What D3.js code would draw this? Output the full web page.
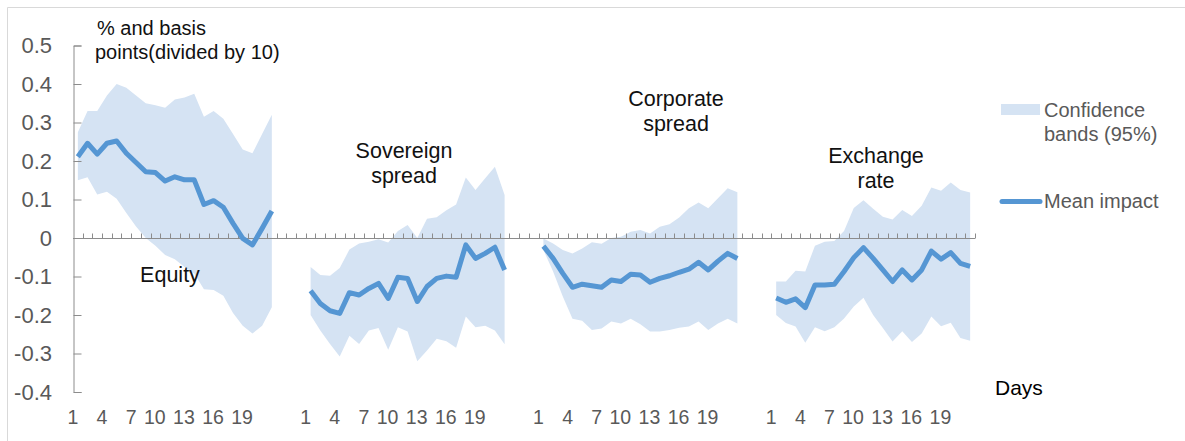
<!DOCTYPE html>
<html><head><meta charset="utf-8">
<script src="https://cdn.jsdelivr.net/npm/d3@7"></script>
<style>body{margin:0;background:#fff}svg{display:block;font-family:"Liberation Sans",Arial,sans-serif}</style>
</head><body><svg id="chart" width="1185" height="441"></svg>
<script>
// ---------- data ----------
const days = d3.range(1, 22);                 // 1..21 days per block
const dayTickLabels = [1, 4, 7, 10, 13, 16, 19];
const blockNames = ["Equity", "Sovereign spread", "Corporate spread", "Exchange rate"];
const yTicks = [-0.4, -0.3, -0.2, -0.1, 0, 0.1, 0.2, 0.3, 0.4, 0.5];

const equityMean = [0.211,0.246,0.218,0.246,0.252,0.220,0.196,0.172,0.170,0.148,0.159,0.151,0.151,0.087,0.097,0.080,0.038,-0.001,-0.018,0.025,0.070];
const equityHigh = [0.275,0.330,0.330,0.370,0.400,0.390,0.370,0.350,0.345,0.338,0.360,0.365,0.375,0.315,0.330,0.310,0.270,0.230,0.220,0.270,0.320];
const equityLow  = [0.150,0.158,0.113,0.120,0.102,0.065,0.030,0.000,-0.020,-0.044,-0.055,-0.075,-0.092,-0.133,-0.135,-0.150,-0.195,-0.228,-0.248,-0.228,-0.180];

const sovereignMean = [-0.137,-0.170,-0.189,-0.196,-0.142,-0.148,-0.131,-0.118,-0.157,-0.102,-0.105,-0.165,-0.126,-0.105,-0.099,-0.102,-0.018,-0.053,-0.040,-0.024,-0.083];
const sovereignHigh = [-0.075,-0.096,-0.098,-0.078,-0.030,-0.014,-0.010,-0.003,-0.012,0.018,0.034,0.000,0.050,0.054,0.072,0.087,0.157,0.125,0.155,0.185,0.112];
const sovereignLow  = [-0.200,-0.240,-0.275,-0.308,-0.254,-0.275,-0.240,-0.234,-0.290,-0.232,-0.243,-0.320,-0.292,-0.262,-0.268,-0.285,-0.204,-0.232,-0.228,-0.240,-0.276];

const corporateMean = [-0.021,-0.053,-0.092,-0.128,-0.120,-0.124,-0.128,-0.109,-0.113,-0.094,-0.096,-0.115,-0.105,-0.098,-0.089,-0.081,-0.063,-0.083,-0.060,-0.040,-0.053];
const corporateHigh = [-0.001,-0.014,-0.031,-0.040,-0.027,-0.011,-0.015,0.000,0.003,0.016,0.021,0.012,0.029,0.036,0.053,0.077,0.092,0.077,0.103,0.129,0.119];
const corporateLow  = [-0.031,-0.087,-0.152,-0.210,-0.215,-0.239,-0.235,-0.217,-0.222,-0.210,-0.224,-0.243,-0.243,-0.239,-0.233,-0.230,-0.217,-0.239,-0.222,-0.210,-0.222];

const exchangeMean = [-0.156,-0.167,-0.158,-0.181,-0.122,-0.122,-0.120,-0.087,-0.051,-0.025,-0.053,-0.083,-0.113,-0.083,-0.109,-0.083,-0.034,-0.055,-0.038,-0.066,-0.074];
const exchangeHigh = [-0.113,-0.113,-0.085,-0.087,-0.020,-0.010,-0.008,0.018,0.078,0.098,0.076,0.055,0.048,0.073,0.057,0.084,0.131,0.123,0.144,0.125,0.118];
const exchangeLow  = [-0.200,-0.221,-0.230,-0.272,-0.232,-0.242,-0.232,-0.209,-0.178,-0.155,-0.200,-0.234,-0.269,-0.242,-0.270,-0.248,-0.204,-0.229,-0.220,-0.260,-0.267];

const seriesMean = [equityMean, sovereignMean, corporateMean, exchangeMean];
const seriesHigh = [equityHigh, sovereignHigh, corporateHigh, exchangeHigh];
const seriesLow  = [equityLow, sovereignLow, corporateLow, exchangeLow];

// ---------- layout ----------
const svg = d3.select("#chart");
const BAND = "#d5e3f3", LINE = "#5596d3", AXIS = "#8c8c8c", GREY = "#595959";
const gapSize = 3;

// category keys: 21 days per block, 3 empty slots between blocks
const categories = [];
blockNames.forEach((b, bi) => {
  days.forEach(d => categories.push(bi + "-" + d));
  if (bi < blockNames.length - 1) for (let g = 0; g < gapSize; g++) categories.push("gap" + bi + "-" + g);
});

const x = d3.scaleBand().domain(categories).range([73, 975]).padding(0);
const y = d3.scaleLinear().domain([-0.4, 0.5]).range([392, 45.5]);
const cx = k => x(k) + x.bandwidth() / 2;

// border
svg.append("path").attr("d", "M7.5,441V7.5H1185").attr("fill", "none").attr("stroke", "#d9d9d9").attr("stroke-width", 1);

// bands
const gBands = svg.append("g");
blockNames.forEach((b, bi) => {
  const pts = days.map((d, i) => ({k: bi + "-" + d, lo: seriesLow[bi][i], hi: seriesHigh[bi][i]}));
  gBands.append("path").datum(pts)
    .attr("fill", BAND)
    .attr("d", d3.area().x(p => cx(p.k)).y0(p => y(p.lo)).y1(p => y(p.hi)));
});

// y axis (line + inward ticks)
const yAx = svg.append("g").attr("transform", "translate(73.5,0)")
  .call(d3.axisRight(y).tickValues(yTicks).tickSize(8).tickSizeOuter(8).tickFormat(""));
yAx.select(".domain").attr("stroke", AXIS);
yAx.selectAll(".tick line").attr("stroke", AXIS);

const yLab = svg.append("g").attr("transform", "translate(73,0)")
  .call(d3.axisLeft(y).tickValues(yTicks).tickSize(0).tickPadding(21)
    .tickFormat(v => (Math.abs(v) < 1e-9 ? "0" : String(+v.toFixed(1)))));
yLab.select(".domain").remove();
yLab.selectAll("text").attr("font-size", 22).attr("fill", GREY).attr("font-family", "Liberation Sans, Arial, sans-serif");

// zero line with category ticks
const y0 = Math.round(y(0)) + 0.5;
svg.append("line").attr("x1", x.range()[0]).attr("x2", x.range()[1]).attr("y1", y0).attr("y2", y0)
  .attr("stroke", AXIS).attr("stroke-width", 1);
const boundaries = d3.range(1, categories.length + 1).map(k => x.range()[0] + k * x.step());
svg.append("g").selectAll("line").data(boundaries).join("line")
  .attr("x1", d => Math.round(d) + 0.5).attr("x2", d => Math.round(d) + 0.5)
  .attr("y1", y0).attr("y2", y0 - 5).attr("stroke", AXIS);

// x tick labels
const xLabels = [];
blockNames.forEach((b, bi) => dayTickLabels.forEach(d => xLabels.push({k: bi + "-" + d, t: d})));
svg.append("g").selectAll("text").data(xLabels).join("text")
  .attr("x", d => cx(d.k) + 0.5).attr("y", 424)
  .attr("text-anchor", "end").attr("font-size", 19.5).attr("fill", GREY)
  .text(d => d.t);

// mean lines
blockNames.forEach((b, bi) => {
  const pts = days.map((d, i) => ({k: bi + "-" + d, v: seriesMean[bi][i]}));
  svg.append("path").datum(pts)
    .attr("fill", "none").attr("stroke", LINE).attr("stroke-width", 5)
    .attr("stroke-linejoin", "round")
    .attr("d", d3.line().x(p => cx(p.k)).y(p => y(p.v)));
});

// block annotations
const annot = [
  {lines: ["Equity"], x: 170, y: 282},
  {lines: ["Sovereign", "spread"], x: 404, y: 158},
  {lines: ["Corporate", "spread"], x: 676, y: 106},
  {lines: ["Exchange", "rate"], x: 876, y: 163}
];
annot.forEach(a => {
  const t = svg.append("text").attr("text-anchor", "middle").attr("font-size", 21.5).attr("fill", "#111");
  a.lines.forEach((l, i) => t.append("tspan").attr("x", a.x).attr("y", a.y + i * 25).text(l));
});

// y-axis title
const tt = svg.append("text").attr("font-size", 20).attr("fill", "#111");
tt.append("tspan").attr("x", 97).attr("y", 35).text("% and basis");
tt.append("tspan").attr("x", 95).attr("y", 59).text("points(divided by 10)");

// Days
svg.append("text").attr("x", 995).attr("y", 395).attr("font-size", 21).attr("fill", "#000").text("Days");

// legend
svg.append("rect").attr("x", 1001).attr("y", 104).attr("width", 39).attr("height", 11).attr("fill", BAND);
const lt = svg.append("text").attr("font-size", 20).attr("fill", GREY);
lt.append("tspan").attr("x", 1044).attr("y", 117).text("Confidence");
lt.append("tspan").attr("x", 1044).attr("y", 141).text("bands (95%)");
svg.append("line").attr("x1", 1002).attr("x2", 1040).attr("y1", 201.5).attr("y2", 201.5)
  .attr("stroke", LINE).attr("stroke-width", 5).attr("stroke-linecap", "round");
svg.append("text").attr("x", 1044).attr("y", 208).attr("font-size", 20).attr("fill", GREY).text("Mean impact");
</script>
</body></html>
